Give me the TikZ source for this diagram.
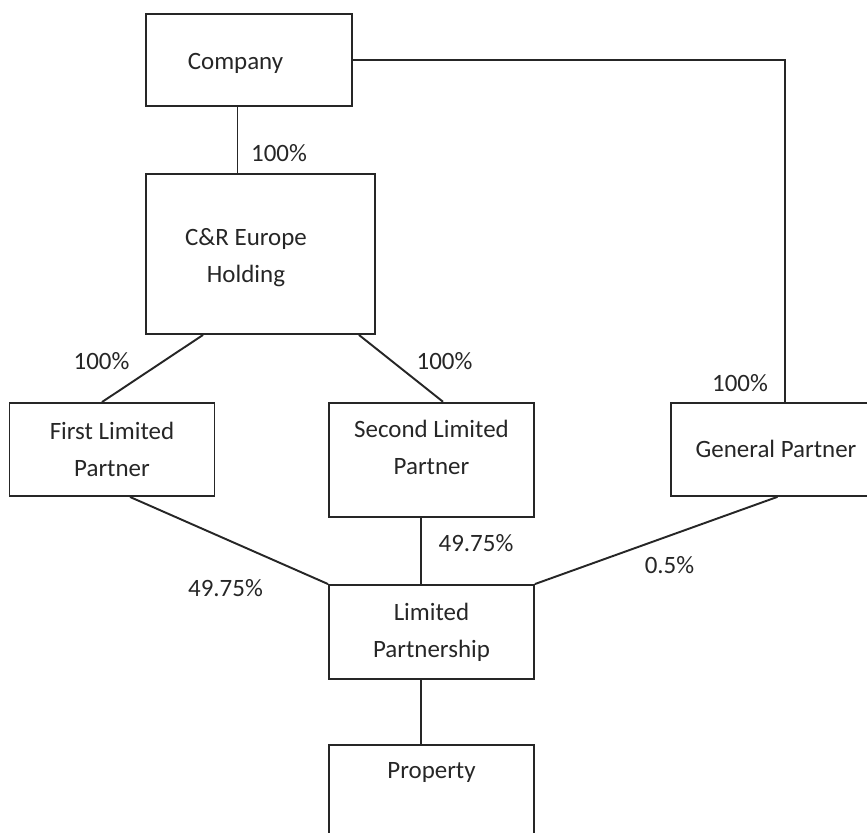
\documentclass[tikz,border=0pt]{standalone}
\usepackage{fontspec}
\setmainfont{Carlito}
\usepackage{xcolor}
\definecolor{ink}{HTML}{262626}
\usepackage{tikz}
\usetikzlibrary{positioning, calc}

\begin{document}
\begin{tikzpicture}[
  x=0.02cm, y=-0.02cm,
  font=\fontsize{14.2}{21}\selectfont,
  entity/.style={
    draw=ink, line width=1.1pt, text=ink, align=center,
    inner sep=0pt, minimum width=4.1cm
  },
  inlabel/.style={text=ink, align=center, inner sep=0pt},
  share/.style={text=ink, inner sep=0pt},
  link/.style={draw=ink, line width=1.1pt}
]
  \useasboundingbox (0,0) rectangle (867,833);

  % entities
  \node[entity, minimum width=4.12cm, minimum height=1.84cm,
        label={[inlabel, xshift=-0.27cm, yshift=-0.06cm]center:Company}]
        (company) at (249,60) {};
  \node[entity, minimum width=4.58cm, minimum height=3.2cm,
        label={[inlabel, xshift=-0.29cm, yshift=-0.08cm]center:C\&R Europe\\Holding}]
        (holding) at (260.5,254) {};
  \node[entity, minimum height=1.86cm] (firstlp) at (112,449.5)
        {First Limited\\Partner};
  \node[entity, minimum height=2.28cm,
        label={[inlabel, yshift=0.24cm]center:Second Limited\\Partner}]
        (secondlp) at (431.5,459.7) {};
  \node[entity, minimum width=4.2cm, minimum height=1.86cm] (genpartner) at (776,449.4)
        {General Partner};
  \node[entity, minimum height=1.88cm] (partnership) at (431.5,632)
        {Limited\\Partnership};
  \node[entity, minimum height=2.4cm,
        label={[inlabel, yshift=0.66cm]center:Property}]
        (property) at (431.5,805) {};

  % ownership links
  \draw[link] ([xshift=-0.23cm]company.south) -- ([xshift=-0.23cm]company.south |- holding.north);
  \draw[link] (company.east) -| ([xshift=0.18cm]genpartner.north);
  \draw[link] ([xshift=-1.15cm]holding.south) -- ([xshift=-0.2cm]firstlp.north);
  \draw[link] ([xshift=1.97cm]holding.south) -- ([xshift=0.23cm]secondlp.north);
  \draw[link] ([xshift=0.36cm]firstlp.south) -- (partnership.north west);
  \draw[link] ([xshift=-0.21cm]secondlp.south) -- ([xshift=-0.21cm]partnership.north);
  \draw[link] ([xshift=0.03cm]genpartner.south) -- (partnership.north east);
  \draw[link] ([xshift=-0.21cm]partnership.south) -- ([xshift=-0.21cm]property.north);

  % shares
  \node[share] (s1) at (279,153) {100\%};
  \node[share] (s2) at (101.5,361) {100\%};
  \node[share] (s3) at (444.5,361) {100\%};
  \node[share] (s4) at (740,383) {100\%};
  \node[share] (s5) at (225.5,588) {49.75\%};
  \node[share] (s6) at (476,543) {49.75\%};
  \node[share] (s7) at (669.5,565) {0.5\%};
\end{tikzpicture}
\end{document}
